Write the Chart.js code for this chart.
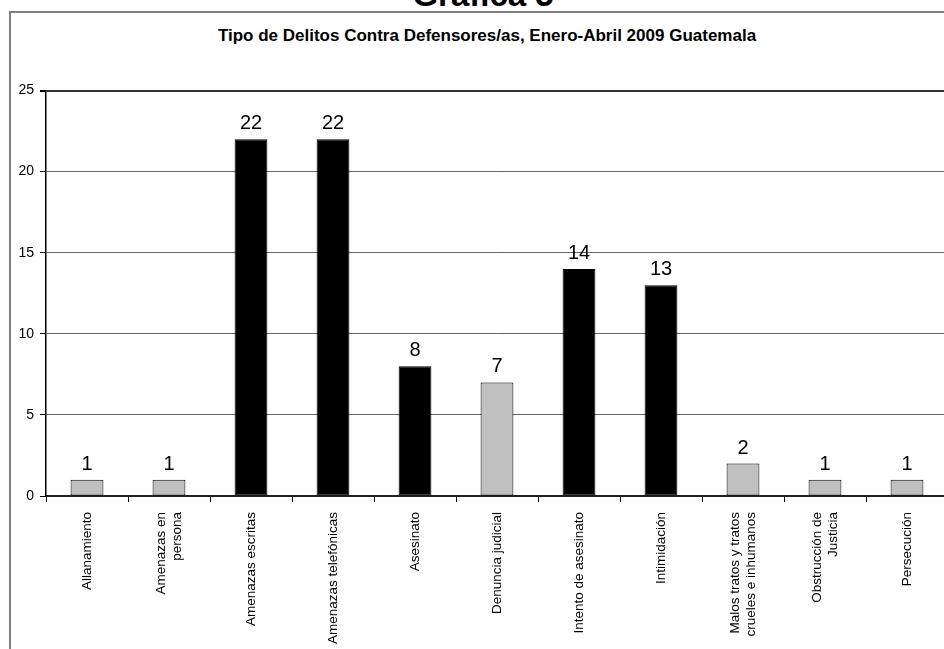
<!DOCTYPE html>
<html>
<head>
<meta charset="utf-8">
<script src="https://cdn.jsdelivr.net/npm/chart.js@4.4.1/dist/chart.umd.min.js"></script>
<style>
  html, body { margin: 0; padding: 0; background: #fff; overflow: hidden; }
  #wrap { position: relative; width: 944px; height: 649px; overflow: hidden; background: #fff; }
  #frame { position: absolute; left: 9px; top: 11px; width: 980px; height: 700px; border: 2px solid #808080; box-sizing: border-box; }
  .ttl { position: absolute; white-space: nowrap; font-family: "Liberation Sans", Arial, sans-serif; font-weight: bold; color: #000; transform: translateX(-50%); }
  #mainTitle { left: 483px; top: -22px; font-size: 33px; line-height: 33px; }
  #subTitle { left: 487px; top: 27px; font-size: 17px; line-height: 17px; }
  #c { position: absolute; left: 0; top: 0; }
</style>
</head>
<body>
<div id="wrap">
  <div id="frame"></div>
  <div id="mainTitle" class="ttl">Gráfica 5</div>
  <div id="subTitle" class="ttl">Tipo de Delitos Contra Defensores/as, Enero-Abril 2009 Guatemala</div>
  <canvas id="c" width="950" height="649"></canvas>
</div>
<script>
// ---- data ----
const categories = [
  ["Allanamiento"],
  ["Amenazas en", "persona"],
  ["Amenazas escritas"],
  ["Amenazas telefónicas"],
  ["Asesinato"],
  ["Denuncia judicial"],
  ["Intento de asesinato"],
  ["Intimidación"],
  ["Malos tratos y tratos", "crueles e inhumanos"],
  ["Obstrucción de", "Justicia"],
  ["Persecución"]
];
const values = [1, 1, 22, 22, 8, 7, 14, 13, 2, 1, 1];
const isDark = [false, false, true, true, true, false, true, true, false, false, false];
const yTicks = [0, 5, 10, 15, 20, 25];

const FONT = '"Liberation Sans", Arial, sans-serif';

const labelPlugin = {
  id: 'customLabels',
  afterDraw(chart) {
    const ctx = chart.ctx;
    const meta = chart.getDatasetMeta(0);
    const xScale = chart.scales.x;
    // value labels above bars
    ctx.save();
    ctx.fillStyle = '#000';
    ctx.font = '20px ' + FONT;
    ctx.textAlign = 'center';
    ctx.textBaseline = 'alphabetic';
    meta.data.forEach((bar, i) => {
      ctx.fillText(String(values[i]), bar.x, bar.y - 10);
    });
    ctx.restore();
    // rotated category labels
    ctx.save();
    ctx.fillStyle = '#000';
    ctx.font = '13.5px ' + FONT;
    ctx.textAlign = 'right';
    ctx.textBaseline = 'middle';
    const top = xScale.top + 16;
    const lh = 16;
    categories.forEach((lines, i) => {
      const x = xScale.getPixelForValue(i);
      ctx.save();
      ctx.translate(x, top);
      ctx.rotate(-Math.PI / 2);
      const n = lines.length;
      lines.forEach((t, j) => {
        ctx.fillText(t, 0, (j - (n - 1) / 2) * lh);
      });
      ctx.restore();
    });
    ctx.restore();
  }
};

new Chart(document.getElementById('c'), {
  type: 'bar',
  data: {
    labels: categories.map(l => l.join(' ')),
    datasets: [{
      data: values,
      backgroundColor: isDark.map(d => d ? '#000000' : '#c0c0c0'),
      borderColor: '#000000',
      borderWidth: 1,
      borderSkipped: false,
      categoryPercentage: 1.0,
      barPercentage: 0.4
    }]
  },
  options: {
    responsive: false,
    animation: false,
    devicePixelRatio: 1,
    layout: { padding: { top: 90.5, right: 2, left: 0, bottom: 0 } },
    plugins: {
      legend: { display: false },
      title: { display: false },
      tooltip: { enabled: false }
    },
    scales: {
      x: {
        type: 'category',
        offset: true,
        grid: {
          offset: true,
          drawOnChartArea: false,
          drawTicks: true,
          tickLength: 6,
          tickColor: '#000',
          lineWidth: 1
        },
        border: { display: true, color: '#222', width: 2 },
        ticks: { display: false },
        afterFit(scale) { scale.height = 649 - 496; }
      },
      y: {
        min: 0,
        max: 25,
        afterBuildTicks(scale) { scale.ticks = yTicks.map(v => ({ value: v })); },
        grid: {
          drawTicks: true,
          tickLength: 6,
          tickColor: '#000',
          color: (c) => (c.tick && c.tick.value === 25) ? '#333333' : '#666666',
          lineWidth: (c) => (c.tick && c.tick.value === 25) ? 2 : 1
        },
        border: { display: true, color: '#000', width: 1.5 },
        ticks: {
          color: '#000',
          padding: 6,
          font: { family: FONT, size: 14 }
        },
        afterFit(scale) { scale.width = 46; }
      }
    }
  },
  plugins: [labelPlugin]
});
</script>
</body>
</html>
